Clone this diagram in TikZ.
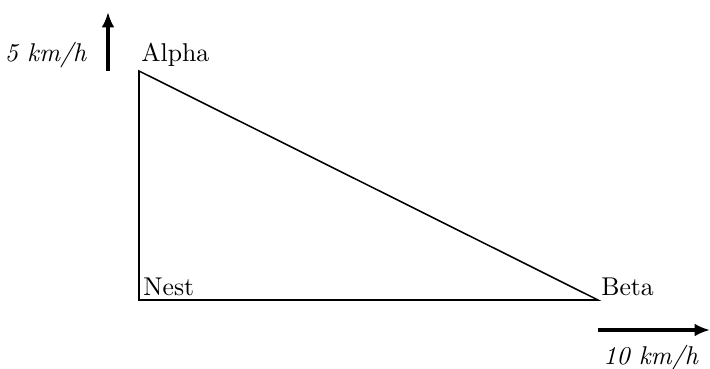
\documentclass[tikz,border=0pt]{standalone}
\usetikzlibrary{arrows.meta}
\begin{document}
\begin{tikzpicture}
[x=0.3891pt, y=-0.3891pt,
  labeldecorate/.style={inner sep=1.5pt},%
  linedecorate/.style={-,semithick},%
  speeddecorate/.style={-{Latex[length=6pt,width=5pt]},very thick}]
\useasboundingbox (0,0) rectangle (710,369);
%% corners of the triangle
\foreach \nodename/\x/\y in {Nest/139/300, Alpha/137/71, Beta/597/300}
{
  \node (\nodename label) [labeldecorate, above right] at (\x,\y) {\nodename};
}
\coordinate (Nest) at (139,300);
\coordinate (Alpha) at (139,71);
\coordinate (Beta) at (598,300);
%% sides
\draw[linedecorate] (Nest) -- (Alpha) -- (Beta) -- cycle;
%% speed arrows
\coordinate (vstart) at (108,71);
\coordinate (vend) at (108,12);
\coordinate (hstart) at (598,330);
\coordinate (hend) at (710,330);
\draw[speeddecorate] (vstart) -- (vend);
\draw[speeddecorate] (hstart) -- (hend);
\node (vlabel) [anchor=base east] at (96,62) {\textit{5 km/h}};
\node (hlabel) [anchor=base] at (651,364) {\textit{10 km/h}};
\end{tikzpicture}
\end{document}
